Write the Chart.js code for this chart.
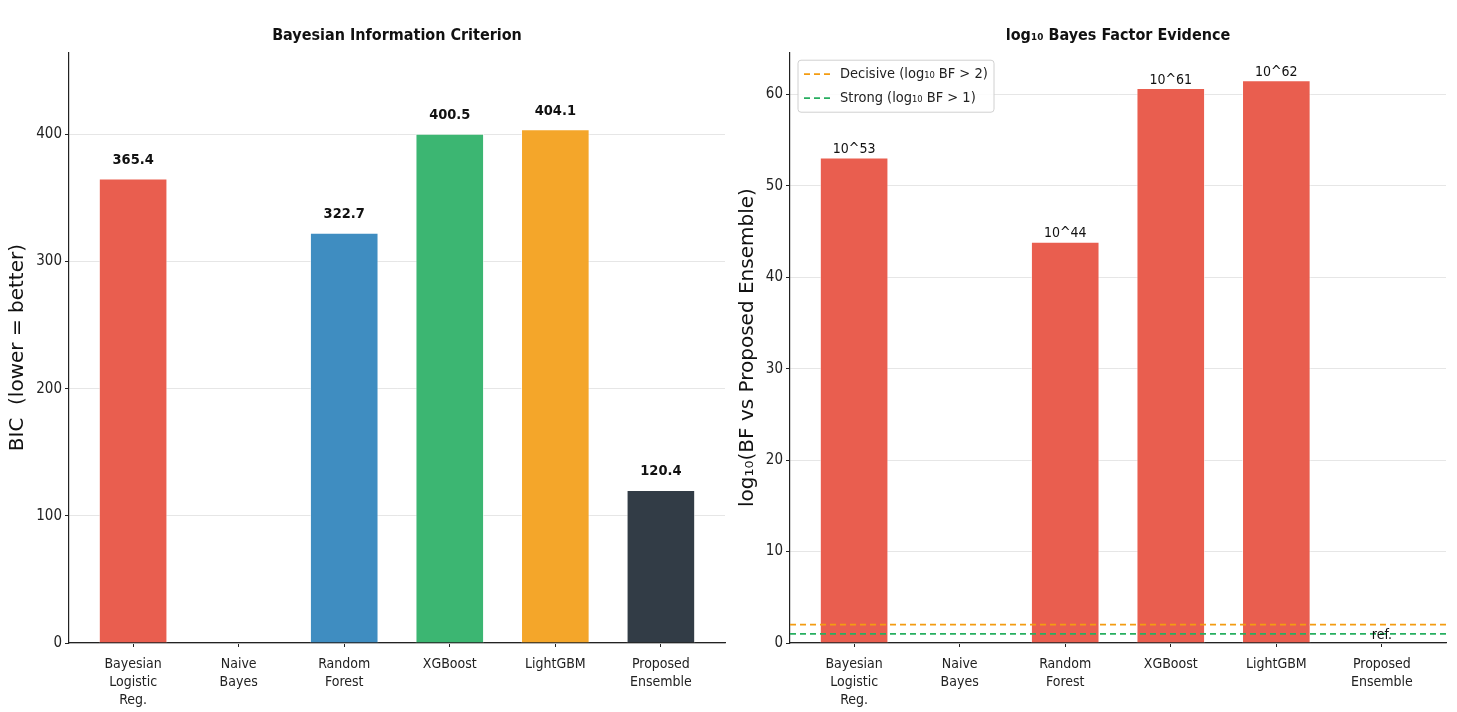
<!DOCTYPE html>
<html>
<head>
<meta charset="utf-8">
<script src="https://cdn.jsdelivr.net/npm/chart.js@4/dist/chart.umd.min.js"></script>
<style>
  body { margin: 0; background: #fff; }
  .wrap { position: relative; width: 1457px; height: 712px; }
  #bic { position: absolute; left: 0; top: 0; }
  #bf { position: absolute; left: 728px; top: 0; }
</style>
</head>
<body>
<div class="wrap">
  <canvas id="bic" width="728" height="712"></canvas>
  <canvas id="bf" width="729" height="712"></canvas>
</div>
<script>
// data
const models = [['Bayesian', 'Logistic', 'Reg.'], ['Naive', 'Bayes'], ['Random', 'Forest'], ['XGBoost'], ['LightGBM'], ['Proposed', 'Ensemble']];
const bicValues = [365.4, null, 322.7, 400.5, 404.1, 120.4];
const log10BF = [53.1, null, 43.9, 60.7, 61.55, 0];
const bicTicks = [0, 100, 200, 300, 400];
const bfTicks = [0, 10, 20, 30, 40, 50, 60];
const thresholds = [
    { label: 'Decisive (log\u2081\u2080 BF > 2)', value: 2, color: '#f39c12' },
    { label: 'Strong (log\u2081\u2080 BF > 1)', value: 1, color: '#27ae60' }
];

const bicColors = ['#e95e4f', '#e95e4f', '#3f8dc1', '#3cb672', '#f4a62a', '#323c46'];
const bfColor = '#e95e4f';

const FONT = "'DejaVu Sans Condensed', 'DejaVu Sans', sans-serif";
const XMIN = -0.6075, XMAX = 5.6075;

Chart.defaults.font.family = FONT;
Chart.defaults.color = '#222';
Chart.defaults.animation = false;

function toPoints(values) {
    return values.map((v, i) => ({ x: i, y: v }));
}

// value labels above each bar
const barLabels = {
    id: 'barLabels',
    afterDatasetsDraw(chart, args, opts) {
        const ctx = chart.ctx;
        chart.data.datasets.forEach((ds, di) => {
            if (ds.type !== 'bar') return;
            const meta = chart.getDatasetMeta(di);
            meta.data.forEach((bar, i) => {
                const v = ds.data[i].y;
                if (v === null) return;
                ctx.save();
                ctx.font = opts.font;
                ctx.fillStyle = '#111';
                ctx.textAlign = 'center';
                ctx.textBaseline = 'bottom';
                ctx.fillText(opts.format(v), bar.x, bar.y - opts.offset);
                ctx.restore();
            });
        });
    }
};

// boxed legend inside the plot, top-left
const boxLegend = {
    id: 'boxLegend',
    afterDraw(chart, args, opts) {
        if (!opts.show) return;
        const ctx = chart.ctx;
        const area = chart.chartArea;
        const lines = chart.data.datasets.filter(d => d.type === 'line');
        const x0 = area.left + 8, y0 = area.top + 8;
        const w = 196, h = 52;
        ctx.save();
        ctx.beginPath();
        ctx.roundRect(x0, y0, w, h, 3);
        ctx.fillStyle = 'rgba(255,255,255,0.85)';
        ctx.fill();
        ctx.strokeStyle = '#d0d0d0';
        ctx.lineWidth = 1;
        ctx.stroke();
        ctx.font = '14.5px ' + FONT;
        ctx.textBaseline = 'middle';
        lines.forEach((d, k) => {
            const y = y0 + 14 + k * 24;
            ctx.beginPath();
            ctx.setLineDash([6, 4]);
            ctx.strokeStyle = d.borderColor;
            ctx.lineWidth = 1.8;
            ctx.moveTo(x0 + 6, y);
            ctx.lineTo(x0 + 34, y);
            ctx.stroke();
            ctx.setLineDash([]);
            ctx.fillStyle = '#222';
            ctx.fillText(d.label, x0 + 42, y);
        });
        ctx.restore();
    }
};

function makeOptions(cfg) {
    return {
        responsive: false,
        layout: { padding: { left: 0, right: cfg.padRight, top: 0, bottom: 0 } },
        plugins: {
            legend: { display: false },
            tooltip: { enabled: false },
            title: {
                display: true,
                text: cfg.title,
                fullSize: false,
                color: '#111',
                font: { size: 16, weight: 'bold', lineHeight: 1.2 },
                padding: { top: 26, bottom: 7 }
            },
            barLabels: cfg.labels,
            boxLegend: { show: cfg.legend }
        },
        scales: {
            x: {
                type: 'linear',
                min: XMIN,
                max: XMAX,
                offset: false,
                afterBuildTicks: axis => { axis.ticks = models.map((m, i) => ({ value: i })); },
                afterFit: s => { s.height = 69; },
                grid: { offset: false, drawOnChartArea: false, tickLength: 4, tickColor: '#222', tickWidth: 1 },
                border: { color: '#222', width: 1.2 },
                ticks: {
                    callback: v => models[v],
                    font: { size: 14, lineHeight: 1.3 },
                    color: '#222',
                    padding: 8,
                    maxRotation: 0,
                    autoSkip: false
                }
            },
            y: {
                min: 0,
                max: cfg.ymax,
                afterBuildTicks: axis => { axis.ticks = cfg.ticks.map(v => ({ value: v })); },
                afterFit: s => { s.width = cfg.yWidth; },
                grid: { color: '#e6e6e6', lineWidth: 1, tickLength: 4, tickColor: '#222' },
                border: { color: '#222', width: 1.2 },
                ticks: { font: { size: 15 }, color: '#222', padding: 3 },
                title: {
                    display: true,
                    text: cfg.yTitle,
                    font: { family: "'DejaVu Sans', sans-serif", size: 20 },
                    color: '#111',
                    padding: { top: cfg.yTitlePad, bottom: 0 }
                }
            }
        }
    };
}

new Chart(document.getElementById('bic'), {
    type: 'bar',
    data: {
        datasets: [{
            type: 'bar',
            data: toPoints(bicValues),
            backgroundColor: bicColors,
            borderColor: 'rgba(255,255,255,0.6)',
            borderWidth: 1,
            categoryPercentage: 0.65,
            barPercentage: 1
        }]
    },
    options: makeOptions({
        title: 'Bayesian Information Criterion',
        yTitle: 'BIC  (lower = better)',
        ymax: Math.max(...bicValues) * 1.15,
        ticks: bicTicks,
        yWidth: 69,
        yTitlePad: 6,
        padRight: 3,
        legend: false,
        labels: { font: 'bold 14.5px ' + FONT, offset: 11, format: v => v.toFixed(1) }
    }),
    plugins: [barLabels, boxLegend]
});

new Chart(document.getElementById('bf'), {
    type: 'bar',
    data: {
        datasets: [
            ...thresholds.map(t => ({
                type: 'line',
                label: t.label,
                data: [{ x: XMIN, y: t.value }, { x: XMAX, y: t.value }],
                borderColor: t.color,
                borderWidth: 1.8,
                borderDash: [6, 4],
                pointRadius: 0,
                order: 0
            })),
            {
                type: 'bar',
                data: toPoints(log10BF),
                backgroundColor: bfColor,
                borderColor: 'rgba(255,255,255,0.6)',
                borderWidth: 1,
                categoryPercentage: 0.65,
                barPercentage: 1,
                order: 1
            }
        ]
    },
    options: makeOptions({
        title: 'log\u2081\u2080 Bayes Factor Evidence',
        yTitle: 'log\u2081\u2080(BF vs Proposed Ensemble)',
        ymax: Math.max(...log10BF) * 1.05,
        ticks: bfTicks,
        yWidth: 62,
        yTitlePad: 8,
        padRight: 11,
        legend: true,
        labels: { font: '14px ' + FONT, offset: 1, format: v => v === 0 ? 'ref.' : '10^' + Math.round(v) }
    }),
    plugins: [barLabels, boxLegend]
});
</script>
</body>
</html>
